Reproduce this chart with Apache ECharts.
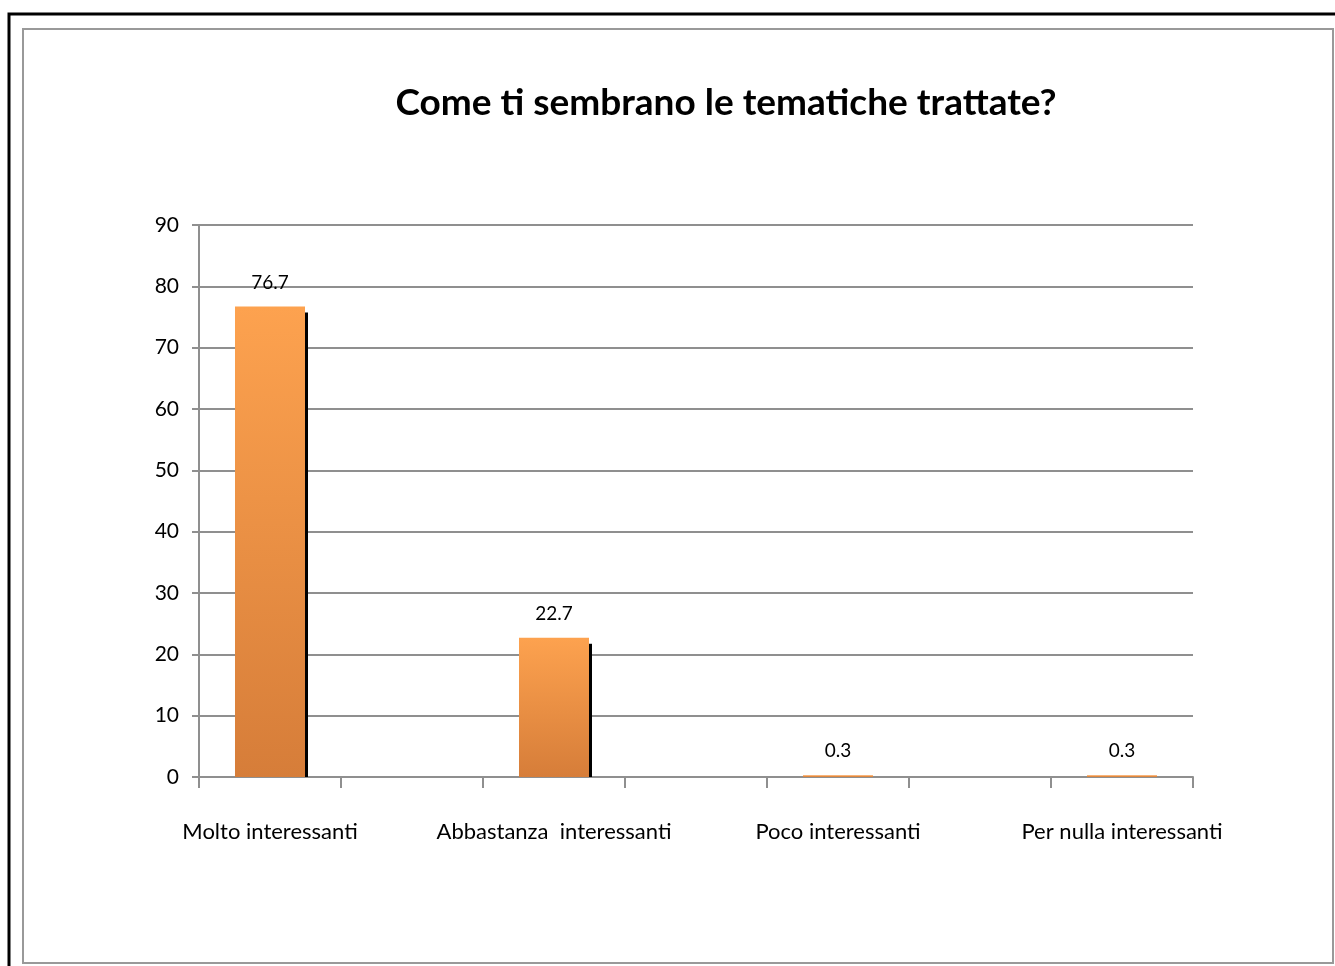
<!DOCTYPE html>
<html>
<head>
<meta charset="utf-8">
<script src="https://cdn.jsdelivr.net/npm/echarts@6/dist/echarts.min.js"></script>
<style>
html,body{margin:0;padding:0;background:#fff;}
#chart{width:1335px;height:966px;}
</style>
</head>
<body>
<div id="chart"></div>
<script>
const titleText = 'Come ti sembrano le tematiche trattate?';
const categories = ['Molto interessanti', 'Abbastanza  interessanti', 'Poco interessanti', 'Per nulla interessanti'];
const values = [76.7, 22.7, 0.3, 0.3];
const yMin = 0, yMax = 90, yStep = 10;

const FONT = 'Lato, "Open Sans", sans-serif';

// Interleave empty gap categories between the real ones (original layout)
const axisCats = [];
categories.forEach((c, i) => {
  if (i > 0) axisCats.push(' '.repeat(i));
  axisCats.push(c);
});
const seriesData = values.map((v, i) => [i * 2, v]);

const chart = echarts.init(document.getElementById('chart'), null, {renderer: 'canvas'});
const grey = '#8f8f8f';

chart.setOption({
  animation: false,
  backgroundColor: '#fff',
  graphic: [
    {type: 'rect', z: -10, shape: {x: 9, y: 14, width: 1400, height: 1000}, style: {fill: 'none', stroke: '#000', lineWidth: 3}},
    {type: 'rect', z: -10, shape: {x: 23, y: 29, width: 1310, height: 934}, style: {fill: 'none', stroke: '#999', lineWidth: 2}},
    {type: 'text', z: 10, x: 726, y: 103, style: {text: titleText, font: 'bold 37px ' + FONT, fill: '#000', textAlign: 'center', textVerticalAlign: 'middle'}}
  ],
  grid: {left: 199, right: 142, top: 225, bottom: 189, containLabel: false},
  xAxis: {
    type: 'category',
    data: axisCats,
    boundaryGap: true,
    axisLine: {show: true, lineStyle: {color: grey, width: 2}},
    axisTick: {show: true, interval: 0, length: 11, lineStyle: {color: grey, width: 2}},
    axisLabel: {interval: 0, margin: 44, fontSize: 22, color: '#000', fontFamily: FONT}
  },
  yAxis: {
    type: 'value',
    min: yMin, max: yMax, interval: yStep,
    axisLine: {show: true, lineStyle: {color: grey, width: 2}},
    axisTick: {show: true, length: 7, lineStyle: {color: grey, width: 2}},
    splitLine: {show: true, lineStyle: {color: grey, width: 2}},
    axisLabel: {margin: 20, fontSize: 21, color: '#000', fontFamily: FONT}
  },
  series: [{
    type: 'custom',
    data: seriesData,
    encode: {x: 0, y: 1},
    renderItem: function (params, api) {
      const xi = api.value(0), v = api.value(1);
      const top = api.coord([xi, v]);
      const base = api.coord([xi, 0]);
      const band = api.size([1, 0])[0];
      const w = band * 0.493;
      const left = top[0] - w / 2;
      const h = base[1] - top[1];
      const children = [];
      if (h > 7) {
        children.push({type: 'rect', shape: {x: left + w, y: top[1] + 6, width: 3, height: h - 6}, style: {fill: '#000'}});
      }
      children.push({
        type: 'rect',
        shape: {x: left, y: top[1], width: w, height: Math.max(h, 1.5)},
        style: {fill: new echarts.graphic.LinearGradient(0, 0, 0, 1, [
          {offset: 0, color: '#FDA24F'}, {offset: 1, color: '#D67D39'}
        ])}
      });
      children.push({
        type: 'text',
        style: {text: String(v), x: top[0], y: top[1] - 24, textAlign: 'center', textVerticalAlign: 'middle', font: '19px ' + FONT, fill: '#000'}
      });
      return {type: 'group', children: children};
    }
  }]
});
</script>
</body>
</html>
